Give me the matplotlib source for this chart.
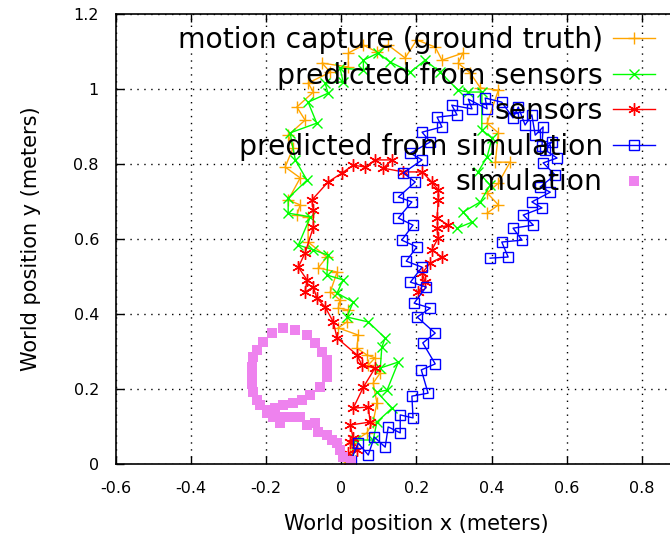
import matplotlib
matplotlib.use('Agg')
import matplotlib.pyplot as plt
from matplotlib.ticker import FuncFormatter, MultipleLocator

plt.rcParams['font.family'] = ['DejaVu Sans']
plt.rcParams['axes.unicode_minus'] = False

# motion capture (ground truth)
mocap_x = [0.021, 0.028, 0.068, 0.085, 0.095, 0.085, 0.104, 0.072, 0.090, 0.068, 0.042, 0.045,
           -0.008, 0.015, 0.019, -0.008, -0.003, -0.029, -0.011, -0.061, -0.038, -0.088, -0.088,
           -0.118, -0.109, -0.141, -0.109, -0.149, -0.128, -0.141, -0.096, -0.118, -0.074, -0.088,
           -0.029, -0.051, 0.019, 0.019, 0.059, 0.095, 0.125, 0.170, 0.201, 0.250, 0.268, 0.324,
           0.311, 0.343, 0.370, 0.418, 0.388, 0.418, 0.410, 0.449, 0.418, 0.388, 0.418, 0.388]
mocap_y = [0.005, 0.056, 0.083, 0.112, 0.163, 0.216, 0.243, 0.264, 0.283, 0.291, 0.309, 0.344,
           0.363, 0.379, 0.411, 0.416, 0.437, 0.459, 0.512, 0.523, 0.552, 0.592, 0.659,
           0.664, 0.691, 0.704, 0.763, 0.792, 0.843, 0.877, 0.917, 0.952, 0.992, 1.016,
           1.045, 1.069, 1.059, 1.096, 1.117, 1.099, 1.117, 1.083, 1.131, 1.112, 1.077, 1.096,
           1.069, 1.043, 1.003, 0.997, 0.909, 0.883, 0.805, 0.805, 0.749, 0.723, 0.691, 0.669]

# predicted from sensors
pred_sens_x = [0.026, 0.037, 0.085, 0.095, 0.135, 0.095, 0.122, 0.152, 0.104, 0.108, 0.117, 0.072,
               0.015, 0.032, -0.011, 0.005, -0.038, -0.035, -0.074, -0.114, -0.082, -0.141, -0.141,
               -0.091, -0.122, -0.136, -0.065, -0.088, -0.035, -0.043, 0.005, -0.003, 0.059, 0.059,
               0.098, 0.130, 0.184, 0.223, 0.263, 0.311, 0.338, 0.374, 0.374, 0.401, 0.388, 0.364,
               0.396, 0.370, 0.324, 0.348, 0.308]
pred_sens_y = [0.011, 0.064, 0.064, 0.112, 0.149, 0.192, 0.197, 0.272, 0.256, 0.312, 0.336, 0.379,
               0.392, 0.432, 0.456, 0.491, 0.504, 0.557, 0.571, 0.584, 0.659, 0.669, 0.709,
               0.757, 0.811, 0.883, 0.909, 0.965, 0.989, 1.016, 1.019, 1.056, 1.051, 1.077,
               1.096, 1.072, 1.045, 1.077, 1.045, 0.997, 0.992, 0.992, 0.891, 0.869, 0.819, 0.779,
               0.744, 0.699, 0.672, 0.645, 0.629]

# sensors
sens_x = [0.021, 0.019, 0.042, 0.024, 0.032, 0.024, 0.077, 0.072, 0.032, 0.059, 0.090, 0.055,
          0.042, -0.011, -0.021, -0.043, -0.065, -0.074, -0.096, -0.091, -0.114, -0.096, -0.074,
          -0.074, -0.078, -0.035, 0.002, 0.032, 0.064, 0.090, 0.135, 0.112, 0.165, 0.215, 0.241,
          0.258, 0.258, 0.255, 0.285, 0.255, 0.258, 0.241, 0.268, 0.237, 0.215, 0.223, 0.205]
sens_y = [0.005, 0.029, 0.037, 0.059, 0.069, 0.104, 0.112, 0.152, 0.149, 0.205, 0.256, 0.264,
          0.291, 0.336, 0.379, 0.419, 0.443, 0.472, 0.459, 0.491, 0.525, 0.563, 0.632,
          0.677, 0.704, 0.752, 0.776, 0.797, 0.792, 0.811, 0.811, 0.789, 0.779, 0.779, 0.752,
          0.731, 0.704, 0.656, 0.637, 0.629, 0.603, 0.571, 0.552, 0.536, 0.509, 0.485, 0.459]

# predicted from simulation
pred_sim_x = [0.026, 0.045, 0.072, 0.088, 0.117, 0.125, 0.157, 0.157, 0.191, 0.188, 0.231, 0.213,
              0.250, 0.217, 0.250, 0.202, 0.237, 0.194, 0.226, 0.184, 0.215, 0.173, 0.201, 0.161,
              0.191, 0.152, 0.188, 0.152, 0.197, 0.165, 0.215, 0.184, 0.237, 0.215, 0.268, 0.255,
              0.308, 0.294, 0.348, 0.338, 0.388, 0.383, 0.427, 0.457, 0.471, 0.489, 0.507, 0.516,
              0.537, 0.534, 0.560, 0.543, 0.574, 0.537, 0.569, 0.529, 0.556, 0.507, 0.534, 0.484,
              0.511, 0.457, 0.481, 0.427, 0.444, 0.396]
pred_sim_y = [0.009, 0.056, 0.024, 0.072, 0.045, 0.099, 0.083, 0.131, 0.123, 0.181, 0.189, 0.251,
              0.267, 0.323, 0.349, 0.392, 0.416, 0.429, 0.472, 0.485, 0.525, 0.541, 0.579, 0.597,
              0.637, 0.656, 0.699, 0.712, 0.752, 0.776, 0.811, 0.829, 0.859, 0.885, 0.899, 0.925,
              0.931, 0.957, 0.947, 0.973, 0.947, 0.976, 0.965, 0.923, 0.952, 0.904, 0.931, 0.877,
              0.899, 0.848, 0.859, 0.837, 0.816, 0.803, 0.771, 0.739, 0.725, 0.699, 0.683, 0.664,
              0.637, 0.629, 0.597, 0.592, 0.552, 0.549]

# simulation
sim_x = [0.026, 0.005, -0.003, -0.011, -0.025, -0.038, -0.061, -0.069, -0.091, -0.109, -0.131,
         -0.154, -0.162, -0.181, -0.198, -0.215, -0.224, -0.234, -0.237, -0.237, -0.237, -0.234,
         -0.224, -0.207, -0.184, -0.154, -0.122, -0.091, -0.069, -0.051, -0.038, -0.038, -0.038,
         -0.056, -0.082, -0.105, -0.128, -0.154, -0.176, -0.198]
sim_y = [0.009, 0.019, 0.037, 0.056, 0.064, 0.077, 0.085, 0.109, 0.104, 0.125, 0.125,
         0.125, 0.109, 0.125, 0.144, 0.157, 0.171, 0.192, 0.213, 0.235, 0.259, 0.285,
         0.304, 0.325, 0.349, 0.363, 0.357, 0.344, 0.323, 0.299, 0.277, 0.256, 0.232,
         0.205, 0.184, 0.171, 0.163, 0.157, 0.149, 0.136]

fig = plt.figure(figsize=(6.7, 5.38), dpi=100)
ax = fig.add_axes([0.1725, 0.1375, 0.898, 0.8364])

ax.plot(mocap_x, mocap_y, color='#ffa500', lw=1, marker='+', ms=9, mew=1,
        label='motion capture (ground truth)')
ax.plot(pred_sens_x, pred_sens_y, color='#00ff00', lw=1, marker='x', ms=7, mew=1,
        label='predicted from sensors')
ax.plot(sens_x, sens_y, color='#ff0000', lw=1, marker=(6, 2, 0), ms=9, mew=1,
        label='sensors')
ax.plot(pred_sim_x, pred_sim_y, color='#0000ff', lw=1, marker='s', ms=7, mew=1,
        mfc='none', label='predicted from simulation')
ax.plot(sim_x, sim_y, color='#ee82ee', lw=0, marker='s', ms=7, mew=0,
        label='simulation')

ax.set_xlim(-0.6, 1.0)
ax.set_ylim(0, 1.2)
ax.xaxis.set_major_locator(MultipleLocator(0.2))
ax.yaxis.set_major_locator(MultipleLocator(0.2))
ax.xaxis.set_major_formatter(FuncFormatter(lambda v, p: '' if v > 0.9 else '%g' % round(v, 2)))
ax.yaxis.set_major_formatter(FuncFormatter(lambda v, p: '%g' % round(v, 2)))
ax.tick_params(direction='in', length=6, width=1, top=True, right=True,
               labelsize=11.5, pad=12)
ax.grid(True, color='black', lw=1, ls=(0, (1, 4)))
ax.set_axisbelow(True)
for s in ax.spines.values():
    s.set_linewidth(1.2)

ax.set_xlabel('World position x (meters)', fontsize=15, labelpad=13)
ax.set_ylabel('World position y (meters)', fontsize=15, labelpad=23)

leg = ax.legend(loc='upper right', bbox_to_anchor=(655 / 670, 1 - 26 / 538),
                bbox_transform=fig.transFigure, markerfirst=False, frameon=False,
                fontsize=20.3, handlelength=1.5, labelspacing=0.27, handletextpad=0.35,
                borderpad=0, borderaxespad=0)

fig.savefig('out.png', dpi=100)
